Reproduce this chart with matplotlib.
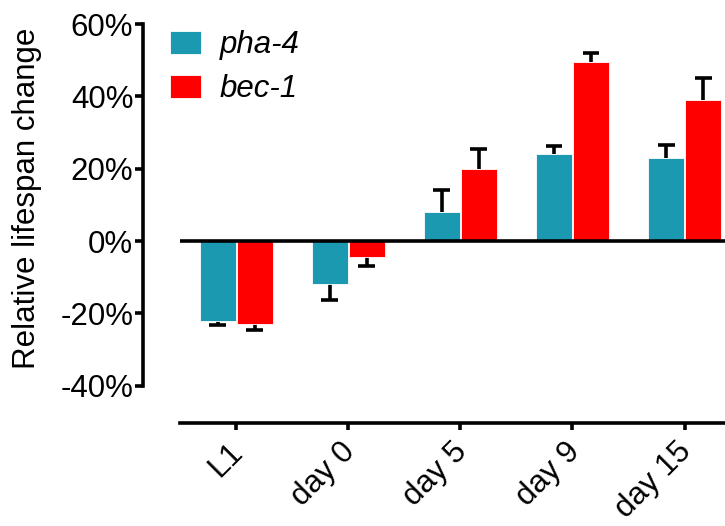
import matplotlib
matplotlib.use("Agg")
import matplotlib.pyplot as plt
import matplotlib.transforms as mtransforms
import numpy as np

categories = ["L1", "day 0", "day 5", "day 9", "day 15"]
series_names = ["pha-4", "bec-1"]
pha4 = [-22.0, -12.0, 8.0, 24.0, 23.0]
pha4_err = [1.2, 4.3, 6.0, 2.3, 3.5]
bec1 = [-23.0, -4.5, 20.0, 49.5, 39.0]
bec1_err = [1.7, 2.3, 5.4, 2.6, 6.1]
yticks = [-40, -20, 0, 20, 40, 60]
ytick_labels = ["-40%", "-20%", "0%", "20%", "40%", "60%"]

colors = ["#1a99b0", "#ff0000"]

plt.rcParams['font.family'] = ['Liberation Sans', 'DejaVu Sans']
FS = 22.5

fig = plt.figure(figsize=(7.25, 5.26), dpi=100)
W, H = 725, 526
ax = fig.add_axes([180 / W, 1 - 423 / H, 1 - 180 / W, (423 - 24) / H])

x = np.arange(len(categories))
bw = 0.32
off = 0.165
cap = 0.075
for vals, errs, col, name, sgn in [(pha4, pha4_err, colors[0], series_names[0], -1),
                                    (bec1, bec1_err, colors[1], series_names[1], 1)]:
    vals = np.array(vals)
    errs = np.array(errs)
    xs = x + sgn * off
    ends = vals + np.sign(vals) * errs
    ax.bar(xs, vals, width=bw, color=col, edgecolor="white", linewidth=0.6,
           label=name, zorder=2)
    ax.vlines(xs, vals, ends, color="black", linewidth=2.6, zorder=1)
    ax.hlines(ends, xs - cap, xs + cap, color="black", linewidth=2.6, zorder=1)

ax.set_xlim(-0.5, 4.36)
ax.set_ylim(-50.3, 60)
ax.axhline(0, color="black", linewidth=2.6, zorder=3)

for s in ["top", "right"]:
    ax.spines[s].set_visible(False)
ax.spines["left"].set_position(("outward", 37 * 0.72))
ax.spines["left"].set_bounds(-40, 60)
ax.spines["left"].set_linewidth(2.6)
ax.spines["bottom"].set_linewidth(2.6)

ax.set_yticks(yticks)
ax.set_yticklabels(ytick_labels)
ax.set_xticks(x)
ax.set_xticklabels(categories, rotation=45, ha="right", rotation_mode="anchor")
ax.tick_params(axis="y", length=6, width=2.6, labelsize=FS, pad=1)
ax.tick_params(axis="x", length=5, width=2.6, labelsize=FS, pad=5)
shift = mtransforms.ScaledTranslation(-8 / 100, 0, fig.dpi_scale_trans)
for lbl in ax.get_xticklabels():
    lbl.set_transform(lbl.get_transform() + shift)

ax.set_ylabel("Relative lifespan change", fontsize=FS)
ax.yaxis.set_label_coords((42 - 180) / (W - 180), 1 - (198 - 24) / (423 - 24))

leg = ax.legend(loc="upper left", bbox_to_anchor=(-10 / (W - 180), 0.985), frameon=False,
                prop={"size": FS, "style": "italic"}, handlelength=1.0, handleheight=0.75,
                handletextpad=0.6, labelspacing=0.45, borderaxespad=0, borderpad=0)

fig.savefig("out.png", dpi=100)
